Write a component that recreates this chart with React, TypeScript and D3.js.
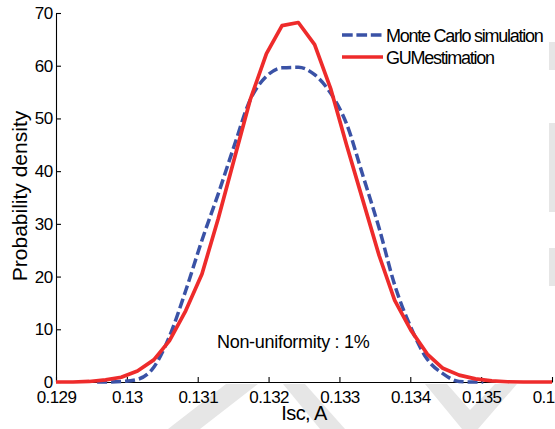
import React, { useEffect, useRef } from 'react';
import * as d3 from 'd3';

// Isc sample points (A)
const gumX = [0.129, 0.12924, 0.12947, 0.1297, 0.12992, 0.13015, 0.13038, 0.1306, 0.13083, 0.13106, 0.13129,
    0.13151, 0.13174, 0.13197, 0.13219, 0.13242, 0.13265, 0.13288, 0.1331, 0.13333, 0.13356, 0.13378,
    0.13401, 0.13424, 0.13446, 0.13469, 0.13492, 0.13515, 0.13537, 0.1356, 0.13583, 0.136];
const gumY = [0, 0, 0.1, 0.4, 0.9, 2.1, 4.2, 7.8, 13.5, 20.5, 31, 42, 53.5, 62.3, 67.6, 68.2, 64, 55.5, 45,
    34.5, 24, 15.5, 9.8, 5.3, 2.6, 1.3, 0.6, 0.2, 0.05, 0, 0, 0];

const mcX = [0.12958, 0.1297, 0.12992, 0.13015, 0.13038, 0.1306, 0.13083, 0.13106, 0.13129, 0.13151, 0.13174,
    0.13197, 0.13219, 0.13242, 0.13265, 0.13288, 0.1331, 0.13333, 0.13356, 0.13378, 0.13401, 0.13424,
    0.13446, 0.13469, 0.13492, 0.13503];
const mcY = [0, 0, 0.1, 0.5, 2.8, 8.6, 17.3, 26.9, 35.7, 44.6, 53.5, 58, 59.6, 59.7, 58.3, 54.7, 49, 39.2,
    29.2, 18.4, 10.3, 4.3, 1.6, 0.1, 0, 0];

const xTicks = [0.129, 0.13, 0.131, 0.132, 0.133, 0.134, 0.135, 0.136];
const yTicks = [0, 10, 20, 30, 40, 50, 60, 70];
const legendLabels = ['Monte Carlo simulation', 'GUMestimation'];

const W = 555;
const H = 429;
const FONT = '"Liberation Sans", Arial, sans-serif';
const BLUE = '#3a52a6';
const RED = '#ee2b2b';

const App = () => {
    const ref = useRef<SVGSVGElement>(null);

    useEffect(() => {
        const svg = d3.select(ref.current);
        svg.selectAll('*').remove();

        // faint watermark behind the plot
        const wm = svg.append('g').attr('fill', '#e6e6e6');
        [
            [[168, 429], [200, 429], [258, 384], [226, 384]],
            [[283, 384], [305, 384], [345, 429], [320, 429]],
            [[425, 384], [447, 384], [470, 410], [495, 384], [517, 384], [478, 429], [462, 429]],
            [[549, 42], [555, 42], [555, 70], [549, 70]],
            [[549, 123], [555, 123], [555, 212], [549, 212]],
            [[549, 248], [555, 248], [555, 286], [549, 286]],
        ].forEach(p => wm.append('polygon').attr('points', p.map(q => q.join(',')).join(' ')));

        const x = d3.scaleLinear().domain([0.129, 0.136]).range([56, 552]);
        const y = d3.scaleLinear().domain([0, 70]).range([382, 13]);

        const xAxis = svg.append('g')
            .attr('transform', 'translate(0,382)')
            .call(d3.axisBottom(x).tickValues(xTicks).tickSize(-5).tickSizeOuter(0).tickPadding(8.5)
                .tickFormat(d => String(+d)));
        const yAxis = svg.append('g')
            .attr('transform', 'translate(56,0)')
            .call(d3.axisLeft(y).tickValues(yTicks).tickSize(-5).tickSizeOuter(0).tickPadding(3.5));

        [xAxis, yAxis].forEach(a => {
            a.selectAll('path, line').attr('stroke', '#000').attr('stroke-width', 1.1);
            a.selectAll('text')
                .attr('fill', '#000')
                .style('font-family', FONT)
                .style('font-size', '17px')
                .style('letter-spacing', '-0.6px');
        });

        const line = d3.line<[number, number]>().x(d => x(d[0])).y(d => y(d[1]));

        svg.append('path')
            .datum(mcX.map((v, i) => [v, mcY[i]] as [number, number]))
            .attr('d', line.curve(d3.curveMonotoneX))
            .attr('fill', 'none')
            .attr('stroke', BLUE)
            .attr('stroke-width', 3.5)
            .attr('stroke-dasharray', '10,4');

        svg.append('path')
            .datum(gumX.map((v, i) => [v, gumY[i]] as [number, number]))
            .attr('d', line.curve(d3.curveLinear))
            .attr('fill', 'none')
            .attr('stroke', RED)
            .attr('stroke-width', 3.7)
            .attr('stroke-linejoin', 'round');

        // legend
        const legend = svg.append('g');
        legendLabels.forEach((label, i) => {
            const ly = 35 + i * 22;
            legend.append('line')
                .attr('x1', 342).attr('x2', 383)
                .attr('y1', ly).attr('y2', ly)
                .attr('stroke', i === 0 ? BLUE : RED)
                .attr('stroke-width', 3.5)
                .attr('stroke-dasharray', i === 0 ? '10.7,3.7' : null);
            legend.append('text')
                .attr('x', 386)
                .attr('y', ly + 6.5)
                .style('font-family', FONT)
                .style('font-size', '18px')
                .style('letter-spacing', '-1.25px')
                .text(label);
        });

        svg.append('text')
            .attr('x', 217)
            .attr('y', 348)
            .style('font-family', FONT)
            .style('font-size', '18px')
            .style('letter-spacing', '-0.3px')
            .text('Non-uniformity : 1%');

        svg.append('text')
            .attr('x', 304)
            .attr('y', 420)
            .attr('text-anchor', 'middle')
            .style('font-family', FONT)
            .style('font-size', '20px')
            .style('letter-spacing', '-0.6px')
            .text('Isc, A');

        svg.append('text')
            .attr('transform', 'translate(27,196) rotate(-90)')
            .attr('text-anchor', 'middle')
            .style('font-family', FONT)
            .style('font-size', '21px')
            .text('Probability density');
    }, []);

    return (
        <svg ref={ref} width={W} height={H}
            style={{ position: 'absolute', left: 0, top: 0, background: '#fff' }} />
    );
};

export default App;
